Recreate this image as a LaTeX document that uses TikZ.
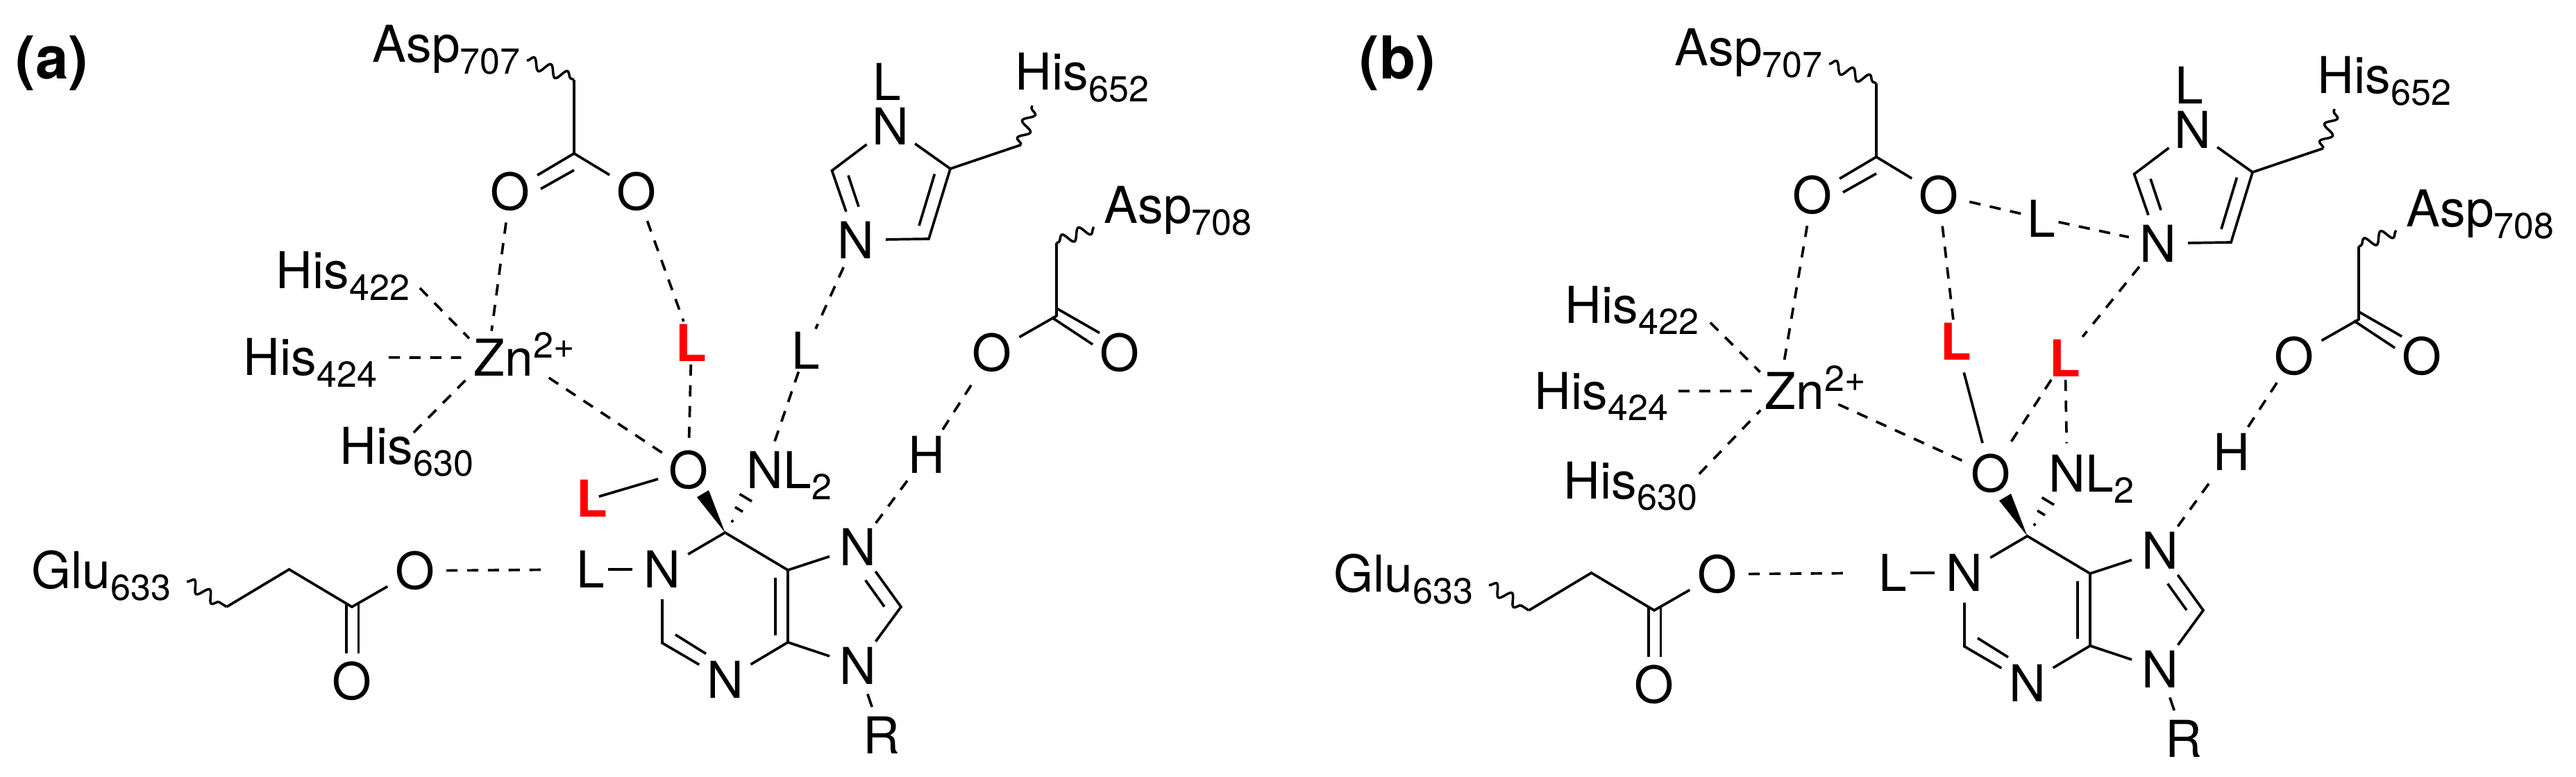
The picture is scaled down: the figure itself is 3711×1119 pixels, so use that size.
\documentclass[tikz,border=0pt]{standalone}
\usepackage{fontspec}
\setmainfont{TeX Gyre Heros}
\usetikzlibrary{decorations.pathmorphing}
\newcommand{\subtxt}[1]{\smash{\raisebox{-4.6pt}{\fontsize{14.8}{16}\selectfont #1}}}
\newcommand{\suptxt}[1]{\rlap{\smash{\raisebox{7.3pt}{\fontsize{14.8}{16}\selectfont #1}}}}
\tikzset{
  bond/.style={line width=1.05pt},
  hbond/.style={line width=1.05pt, dash pattern=on 4.6pt off 3.9pt},
  wavy/.style={line width=1pt, decorate, decoration={snake, segment length=7.4pt, amplitude=2.3pt}},
  atom/.style={circle, inner sep=1pt, font=\fontsize{20.8}{25}\selectfont},
  ltext/.style={rectangle, inner sep=1pt, font=\fontsize{20.8}{25}\selectfont},
  redl/.style={rectangle, inner sep=1pt, text=red, font=\fontsize{20.8}{25}\selectfont\bfseries},
  residue/.style={anchor=base west, inner sep=0pt, font=\fontsize{20.8}{25}\selectfont},
  panel/.style={anchor=base west, inner sep=0pt, font=\fontsize{24.2}{29}\selectfont\bfseries},
  hub/.style={circle, inner sep=0pt, minimum size=0.76cm}
}
\begin{document}
\begin{tikzpicture}[x=0.01cm, y=-0.01cm]
  \useasboundingbox (0,0) rectangle (3711,1119);
  \foreach \pn/\sx/\sy in {a/0/0,b/1876/5}{
  \begin{scope}[shift={(\sx,\sy)}, name prefix=\pn-]
    % Asp 707
    \node [residue] (asp7) at (536,90) {Asp\subtxt{707}};
    \coordinate (wa7) at (759,87);
    \coordinate (ta7) at (827,115);
    \coordinate (ca7) at (827,221);
    \coordinate (da7) at (827,245);
    \coordinate (ea7) at (779,272);
    \node [atom] (o1) at (735,275.5) {O};
    \node [atom] (o2) at (917,275.5) {O};
    \draw [wavy] (wa7) -- (ta7);
    \draw [bond] (o1) -- (ca7) -- (o2);
    \draw [bond] (ta7) -- (ca7);
    \draw [bond] (da7) -- (ea7);
    % His 652
    \node [residue] (his6) at (1462,130) {His\subtxt{652}};
    \node [ltext, inner sep=0pt] (lim) at (1278,118) {L};
    \node [atom] (nim1) at (1283,182) {N};
    \node [atom] (nim3) at (1233,345.6) {N};
    \coordinate (cim2) at (1198.5,245.7);
    \coordinate (cim4) at (1338,344);
    \coordinate (cim5) at (1369,243);
    \coordinate (tim) at (1471,208.6);
    \coordinate (wim) at (1487,152);
    \coordinate (dim2) at (1222,252.6);
    \coordinate (eim2) at (1237,297.7);
    \coordinate (dim4) at (1346.4,250.7);
    \coordinate (eim4) at (1324,325);
    \draw [bond] (nim1) -- (cim2) -- (nim3);
    \draw [bond] (nim3) -- (cim4) -- (cim5) -- (nim1);
    \draw [bond] (cim5) -- (tim);
    \draw [bond] (dim2) -- (eim2);
    \draw [bond] (dim4) -- (eim4);
    \draw [wavy] (tim) -- (wim);
    % Asp 708
    \node [residue] (asp8) at (1590,322) {Asp\subtxt{708}};
    \coordinate (wa8) at (1576,327);
    \coordinate (ta8) at (1522,350);
    \coordinate (ca8) at (1522,455);
    \coordinate (da8) at (1522,444);
    \coordinate (ea8) at (1584,479.5);
    \coordinate (fa8) at (1515,457);
    \coordinate (ga8) at (1574,496);
    \node [atom] (o4) at (1429,508) {O};
    \node [atom] (o5) at (1613,508) {O};
    \draw [wavy] (wa8) -- (ta8);
    \draw [bond] (ta8) -- (ca8) -- (o4);
    \draw [bond] (da8) -- (ea8);
    \draw [bond] (fa8) -- (ga8);
    % Glu 633
    \node [residue] (glu) at (45,848) {Glu\subtxt{633}};
    \coordinate (wg) at (269,837.4);
    \coordinate (tg) at (326.5,874);
    \coordinate (mg) at (416.5,820);
    \coordinate (cg) at (507,874);
    \coordinate (dg) at (498.7,870);
    \coordinate (eg) at (498.7,941.5);
    \coordinate (fg) at (516.6,870);
    \coordinate (gg) at (516.6,941.5);
    \node [atom] (o6) at (597.6,822) {O};
    \node [atom] (o7) at (507,980.7) {O};
    \draw [wavy] (wg) -- (tg);
    \draw [bond] (tg) -- (mg) -- (cg) -- (o6);
    \draw [bond] (dg) -- (eg);
    \draw [bond] (fg) -- (gg);
    % purine
    \node [ltext] (lp) at (851,820) {L};
    \node [atom] (n1) at (954,820) {N};
    \node [atom] (n3) at (1044.5,979) {N};
    \node [atom] (n7) at (1236,788) {N};
    \node [atom] (n9) at (1236,958.6) {N};
    \node [atom] (rr) at (1270,1059) {R};
    \coordinate (c2) at (954,926);
    \coordinate (c4) at (1135,925);
    \coordinate (c5) at (1135,821);
    \coordinate (c6) at (1044.5,767);
    \coordinate (c8) at (1298,874);
    \coordinate (d2) at (973,914);
    \coordinate (e2) at (1017,941.5);
    \coordinate (d4) at (1117,832);
    \coordinate (e4) at (1117,915.4);
    \coordinate (d8) at (1246.7,835.6);
    \coordinate (e8) at (1274,873.7);
    \draw [bond] (n1) -- (c2) -- (n3) -- (c4) -- (c5) -- (c6) -- (n1);
    \draw [bond] (c5) -- (n7) -- (c8) -- (n9) -- (c4);
    \draw [bond] (n9) -- (rr);
    \draw [bond] (lp) -- (n1);
    \draw [bond] (d2) -- (e2);
    \draw [bond] (d4) -- (e4);
    \draw [bond] (d8) -- (e8);
    \draw [hbond, shorten >=11pt] (o6) -- (lp);
    % centre
    \node [atom] (o3) at (991.6,677) {O};
    \node [atom] (nl) at (1102,676.6) {N\rlap{L\subtxt{2}}};
    \fill (c6) -- (1004,716) -- (1021,706) -- cycle;
    \draw [bond] (1054,749) -- (1056,752);
    \draw [bond] (1059,730.4) -- (1070,737);
    \draw [bond] (1065.5,711.5) -- (1083,722);
  \end{scope}
  }
  % panel a
  \node [panel] (tita) at (22,113.7) {(a)};
  \node [residue] (a-zn) at (682,541.5) {Zn\suptxt{2+}};
  \node [hub] (a-znhub) at (703,515) {};
  \node [residue] (a-his422) at (397,416) {His\subtxt{422}};
  \node [residue] (a-his424) at (350,541) {His\subtxt{424}};
  \node [residue] (a-his630) at (489,669) {His\subtxt{630}};
  \node [redl] (a-rl1) at (996,494) {L};
  \node [redl] (a-rl2) at (853,718) {L};
  \node [ltext] (a-lk) at (1161,504.5) {L};
  \node [atom] (a-h) at (1334.7,655) {H};
  \draw [hbond] (a-o1) -- (a-znhub);
  \draw [hbond] ([shift={(14,25)}]a-his422.east) -- (a-znhub);
  \draw [hbond] ([shift={(16,0)}]a-his424.east) -- (a-znhub);
  \draw [hbond] ([shift={(10,8)}]a-his630.north) -- (a-znhub);
  \draw [hbond] (a-o3) -- ([shift={(11,22)}]a-zn.east);
  \draw [hbond] (a-o2) -- (a-rl1);
  \draw [hbond] (a-rl1) -- (a-o3);
  \draw [bond, shorten <=2.9pt] (a-rl2.center) -- (a-o3);
  \draw [hbond] (a-nim3) -- (a-lk);
  \draw [hbond] (a-lk) -- (a-nl);
  \draw [hbond] (a-n7) -- (a-h);
  \draw [hbond] (a-h) -- (a-o4);
  % panel b
  \node [panel] (titb) at (1958,113.3) {(b)};
  \node [residue] (b-zn) at (2542,589.4) {Zn\suptxt{2+}};
  \node [hub] (b-znhub) at (2563,563) {};
  \node [residue] (b-his422) at (2254,465.7) {His\subtxt{422}};
  \node [residue] (b-his424) at (2210,589.4) {His\subtxt{424}};
  \node [residue] (b-his630) at (2252,718.6) {His\subtxt{630}};
  \node [redl] (b-rl1) at (2817.5,492) {L};
  \node [redl] (b-rl2) at (2975,516) {L};
  \node [ltext] (b-lk) at (2941,314.5) {L};
  \node [atom] (b-h) at (3215,651) {H};
  \draw [hbond] (b-o1) -- (b-znhub);
  \draw [hbond] ([shift={(16,25)}]b-his422.east) -- (b-znhub);
  \draw [hbond] ([shift={(14,0)}]b-his424.east) -- (b-znhub);
  \draw [hbond] ([shift={(2,18)}]b-his630.north east) -- (b-znhub);
  \draw [hbond] (b-o3) -- ([shift={(16,18)}]b-zn.east);
  \draw [hbond] (b-o2) -- (b-lk);
  \draw [hbond] (b-lk) -- (b-nim3);
  \draw [hbond] (b-o2) -- (b-rl1);
  \draw [bond, shorten <=4pt] (b-rl1) -- (b-o3);
  \draw [hbond] (b-nim3) -- (b-rl2);
  \draw [hbond] (b-rl2) -- (b-o3);
  \draw [hbond] (b-rl2) -- (b-nl);
  \draw [hbond] (b-n7) -- (b-h);
  \draw [hbond] (b-h) -- (b-o4);
\end{tikzpicture}
\end{document}
